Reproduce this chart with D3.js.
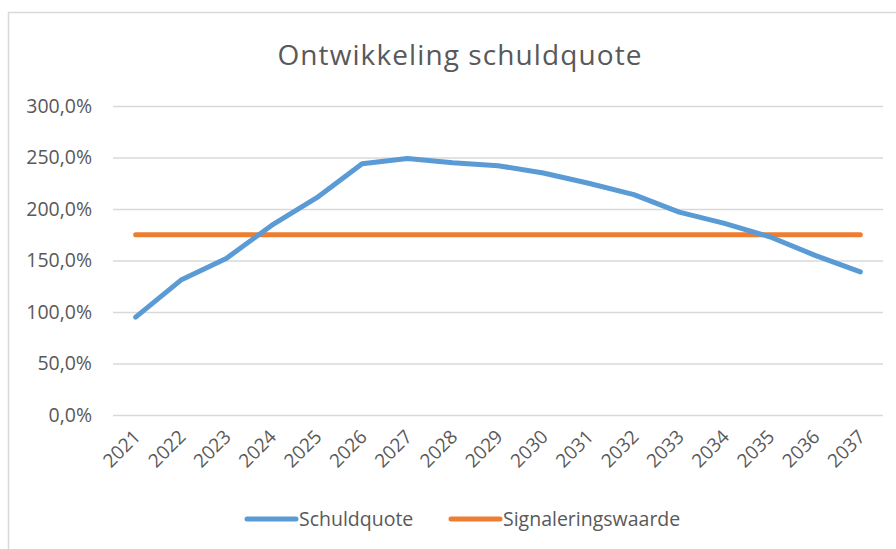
<!DOCTYPE html>
<html>
<head>
<meta charset="utf-8">
<script src="https://cdn.jsdelivr.net/npm/d3@7"></script>
<style>
  body { margin: 0; background: #fff; }
  svg text { font-family: "Open Sans", sans-serif; fill: #595959; }
</style>
</head>
<body>
<div id="chart"></div>
<script>
// data
var years = ["2021", "2022", "2023", "2024", "2025", "2026", "2027", "2028", "2029",
             "2030", "2031", "2032", "2033", "2034", "2035", "2036", "2037"];
var schuldquote = [95, 131, 152, 184, 211, 244, 249, 245, 242, 235, 225, 214, 197, 186, 173, 155, 139];
var signaleringswaarde = [175, 175, 175, 175, 175, 175, 175, 175, 175, 175, 175, 175, 175, 175, 175, 175, 175];
var yTicks = [0, 50, 100, 150, 200, 250, 300];

var W = 896, H = 549;
var margin = {top: 106, right: 13, bottom: 134, left: 113},
    width = W - margin.left - margin.right,
    height = H - margin.top - margin.bottom;

var svg = d3.select("#chart").append("svg")
    .attr("width", W)
    .attr("height", H);

// chart frame (right and bottom run off the picture)
svg.append("rect")
    .attr("x", 8.5).attr("y", 12.5)
    .attr("width", W + 20).attr("height", H + 20)
    .attr("fill", "none")
    .attr("stroke", "#d9d9d9")
    .attr("stroke-width", 1.5);

svg.append("text")
    .attr("x", 460).attr("y", 65)
    .attr("text-anchor", "middle")
    .style("font-size", "28px")
    .style("letter-spacing", "1.1px")
    .text("Ontwikkeling schuldquote");

var g = svg.append("g")
    .attr("transform", "translate(" + margin.left + "," + margin.top + ")");

var x = d3.scaleBand().domain(years).range([0, width]);
var y = d3.scaleLinear().domain([0, 300]).range([height, 0]);

// gridlines + y labels
var yAxis = g.append("g")
    .call(d3.axisLeft(y).tickValues(yTicks).tickSize(-width).tickPadding(21)
      .tickFormat(function(d) { return d3.format(".1f")(d).replace(".", ",") + "%"; }));
yAxis.select(".domain").remove();
yAxis.selectAll("line").attr("stroke", "#d9d9d9").attr("stroke-width", 1.5);
yAxis.selectAll("text").style("font-size", "19.5px").attr("fill", "#595959");

// x labels, rotated
var xAxis = g.append("g")
    .attr("transform", "translate(0," + height + ")")
    .call(d3.axisBottom(x).tickSize(0));
xAxis.select(".domain").remove();
xAxis.selectAll("text")
    .style("font-size", "19px")
    .attr("fill", "#595959")
    .attr("text-anchor", "end")
    .attr("dy", null)
    .attr("y", 0)
    .attr("transform", "translate(6,23) rotate(-45)");

var line = d3.line()
    .x(function(d, i) { return x(years[i]) + x.bandwidth() / 2; })
    .y(function(d) { return y(d); });

g.append("path")
    .datum(signaleringswaarde)
    .attr("fill", "none")
    .attr("stroke", "#ED7D31")
    .attr("stroke-width", 5)
    .attr("stroke-linecap", "round")
    .attr("stroke-linejoin", "round")
    .attr("d", line);

g.append("path")
    .datum(schuldquote)
    .attr("fill", "none")
    .attr("stroke", "#5B9BD5")
    .attr("stroke-width", 5)
    .attr("stroke-linecap", "round")
    .attr("stroke-linejoin", "round")
    .attr("d", line);

// legend
var legend = [
  {name: "Schuldquote", color: "#5B9BD5", x: 245},
  {name: "Signaleringswaarde", color: "#ED7D31", x: 449}
];
var lg = svg.selectAll(".legend").data(legend).enter().append("g")
    .attr("class", "legend")
    .attr("transform", function(d) { return "translate(" + d.x + ",519)"; });
lg.append("line")
    .attr("x1", 2).attr("x2", 51)
    .attr("stroke", function(d) { return d.color; })
    .attr("stroke-width", 5)
    .attr("stroke-linecap", "round");
lg.append("text")
    .attr("x", 54).attr("dy", "0.35em")
    .style("font-size", "19.5px")
    .text(function(d) { return d.name; });
</script>
</body>
</html>
